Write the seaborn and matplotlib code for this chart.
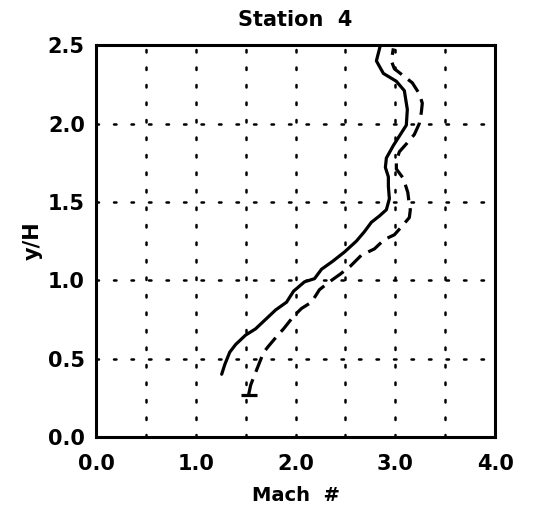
import matplotlib
matplotlib.use("Agg")
import matplotlib.pyplot as plt
import numpy as np
import pandas as pd
import seaborn as sns

# Station 4 profile: Mach number vs y/H, two runs (solid and dashed)
solid_mach = [1.26, 1.29, 1.34, 1.40, 1.50, 1.60, 1.70, 1.80, 1.91, 1.98, 2.09, 2.19,
              2.26, 2.37, 2.49, 2.61, 2.69, 2.76, 2.84, 2.91, 2.94, 2.93, 2.93, 2.90,
              2.91, 2.98, 3.06, 3.11, 3.12, 3.09, 3.01, 2.88, 2.81, 2.85]
solid_y = [0.40, 0.46, 0.54, 0.59, 0.65, 0.69, 0.75, 0.81, 0.86, 0.93, 0.99, 1.01,
           1.07, 1.12, 1.18, 1.25, 1.31, 1.37, 1.41, 1.45, 1.52, 1.60, 1.66, 1.72,
           1.78, 1.86, 1.94, 1.99, 2.09, 2.21, 2.27, 2.32, 2.40, 2.50]

dashed_mach = [1.53, 1.55, 1.58, 1.63, 1.68, 1.73, 1.81, 1.88, 1.98, 2.06, 2.16, 2.24,
               2.34, 2.45, 2.55, 2.66, 2.79, 2.89, 2.99, 3.06, 3.14, 3.15, 3.14, 3.125,
               3.08, 3.01, 3.01, 3.04, 3.11, 3.19, 3.24, 3.26, 3.27, 3.24, 3.17, 3.09,
               2.99, 2.96, 2.98]
dashed_y = [0.27, 0.33, 0.38, 0.46, 0.54, 0.58, 0.64, 0.69, 0.77, 0.82, 0.86, 0.94,
            0.99, 1.04, 1.09, 1.16, 1.20, 1.26, 1.29, 1.34, 1.40, 1.45, 1.48, 1.56,
            1.65, 1.71, 1.76, 1.82, 1.87, 1.93, 2.00, 2.07, 2.13, 2.19, 2.26, 2.30,
            2.35, 2.40, 2.48]

x_ticks = [0.0, 1.0, 2.0, 3.0, 4.0]
y_ticks = [0.0, 0.5, 1.0, 1.5, 2.0, 2.5]

sns.set_theme(style="white")
plt.rcParams['font.family'] = ['DejaVu Sans']
plt.rcParams['text.color'] = 'black'
plt.rcParams['axes.labelcolor'] = 'black'
plt.rcParams['xtick.color'] = 'black'
plt.rcParams['ytick.color'] = 'black'

fig = plt.figure(figsize=(5.33, 5.14), dpi=100)
ax = fig.add_axes([0.180, 0.150, 0.749, 0.762])

df_solid = pd.DataFrame({"mach": solid_mach, "yh": solid_y})
df_dashed = pd.DataFrame({"mach": dashed_mach, "yh": dashed_y})

sns.lineplot(data=df_solid, x="mach", y="yh", sort=False, estimator=None,
             color="black", linewidth=2.3, ax=ax)
sns.lineplot(data=df_dashed, x="mach", y="yh", sort=False, estimator=None,
             color="black", linewidth=2.3, ax=ax, dashes=False)
dl = ax.lines[-1]
dl.set_dashes([5, 2.5])
# short horizontal tick at the start of the dashed run
dl.set_marker("_")
dl.set_markersize(12)
dl.set_markeredgewidth(2.3)
dl.set_markeredgecolor("black")
dl.set_markevery([0])

ax.set_xlim(0, 4)
ax.set_ylim(0, 2.5)
ax.set_xticks(x_ticks)
ax.set_xticks([0.5, 1.5, 2.5, 3.5], minor=True)
ax.set_yticks(y_ticks)
ax.set_xticklabels([f"{v:.1f}" for v in x_ticks], fontsize=15, fontweight="bold")
ax.set_yticklabels([f"{v:.1f}" for v in y_ticks], fontsize=15, fontweight="bold")

ax.tick_params(which="both", direction="in", length=6, width=1.2, color="black")
ax.tick_params(axis="x", which="both", pad=12)
ax.tick_params(axis="y", which="both", pad=8)
ax.grid(True, which="both", color="black", linestyle=(0, (1, 6)),
        linewidth=1.8, dash_capstyle="round")
ax.set_axisbelow(True)

for s in ax.spines.values():
    s.set_color("black")
    s.set_linewidth(2.2)

ax.set_title("Station  4", fontsize=15, fontweight="bold", pad=14)
ax.set_xlabel("Mach  #", fontsize=14, fontweight="bold", labelpad=9)
ax.set_ylabel("y/H", fontsize=15, fontweight="bold", labelpad=4)

fig.savefig("out.png", dpi=100)
